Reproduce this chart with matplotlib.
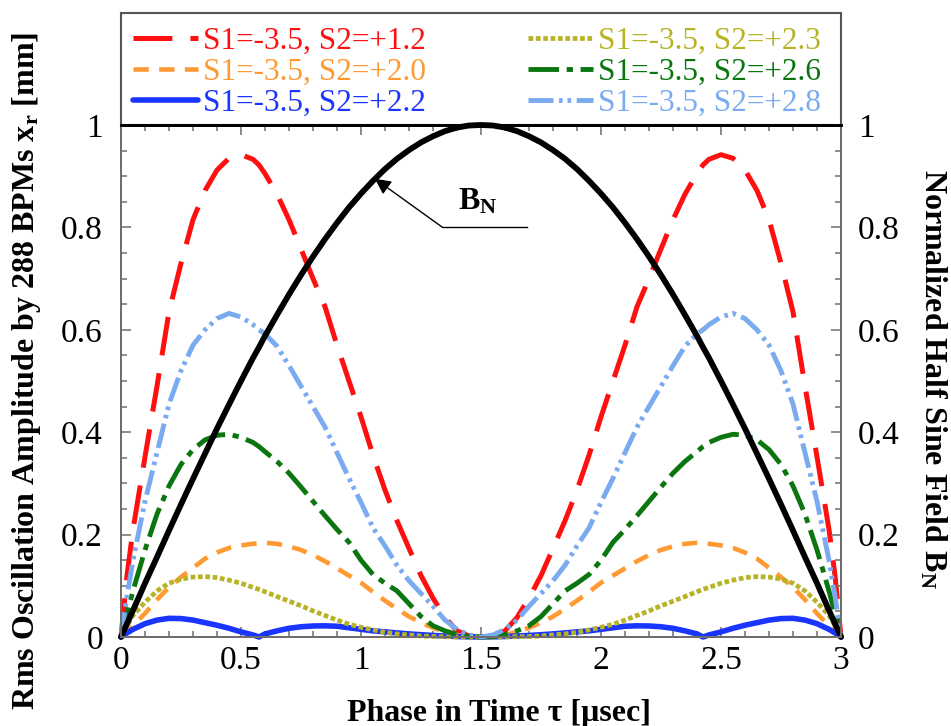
import matplotlib
matplotlib.use("Agg")
import matplotlib.pyplot as plt
from matplotlib.patches import Rectangle
from matplotlib.ticker import MultipleLocator, FuncFormatter

plt.rcParams["font.family"] = ["Liberation Serif", "DejaVu Serif"]
plt.rcParams["mathtext.fontset"] = "custom"
plt.rcParams["mathtext.rm"] = "Liberation Serif"
plt.rcParams["mathtext.bf"] = "Liberation Serif:bold"
plt.rcParams["mathtext.it"] = "Liberation Serif:italic"
plt.rcParams["lines.scale_dashes"] = False

# phase grid [usec]
tau = [0, 0.025, 0.05, 0.1, 0.15, 0.2, 0.25, 0.3, 0.35, 0.4, 0.45, 0.5, 0.55, 0.575,
       0.6, 0.65, 0.7, 0.75, 0.8, 0.85, 0.9, 0.95, 1.0, 1.05, 1.1, 1.15, 1.2, 1.25,
       1.3, 1.35, 1.4, 1.45, 1.5,
       1.55, 1.6, 1.65, 1.7, 1.75, 1.8, 1.85, 1.9, 1.95, 2.0, 2.05, 2.1, 2.15, 2.2,
       2.25, 2.3, 2.35, 2.4, 2.425, 2.45, 2.5, 2.55, 2.6, 2.65, 2.7, 2.75, 2.8, 2.85,
       2.9, 2.95, 2.975, 3.0]

# rms oscillation amplitude [mm] for each sextupole setting
amp_s2_12 = [0, 0.12, 0.21, 0.352, 0.49, 0.635, 0.73, 0.815, 0.872, 0.912, 0.935, 0.942,
             0.933, 0.922, 0.905, 0.865, 0.815, 0.758, 0.70, 0.645, 0.57, 0.50, 0.43,
             0.355, 0.287, 0.227, 0.173, 0.12, 0.076, 0.038, 0.012, 0.002, 0,
             0.002, 0.012, 0.038, 0.076, 0.12, 0.173, 0.227, 0.287, 0.355, 0.43, 0.50,
             0.57, 0.645, 0.70, 0.758, 0.815, 0.865, 0.905, 0.922, 0.933, 0.942, 0.935,
             0.912, 0.872, 0.815, 0.73, 0.635, 0.49, 0.352, 0.21, 0.12, 0]
amp_s2_20 = [0, 0.01, 0.022, 0.046, 0.073, 0.097, 0.117, 0.135, 0.153, 0.165, 0.174, 0.179,
             0.182, 0.183, 0.184, 0.182, 0.177, 0.17, 0.16, 0.148, 0.134, 0.12, 0.106,
             0.088, 0.071, 0.055, 0.04, 0.028, 0.018, 0.01, 0.004, 0.001, 0,
             0.001, 0.004, 0.01, 0.018, 0.028, 0.04, 0.055, 0.071, 0.088, 0.106, 0.12,
             0.134, 0.148, 0.16, 0.17, 0.177, 0.182, 0.184, 0.183, 0.182, 0.179, 0.174,
             0.165, 0.153, 0.135, 0.117, 0.097, 0.073, 0.046, 0.022, 0.01, 0]
amp_s2_22 = [0, 0.008, 0.015, 0.026, 0.033, 0.0365, 0.036, 0.033, 0.028, 0.023, 0.017, 0.010,
             0.004, 0.0, 0.006, 0.012, 0.017, 0.020, 0.0215, 0.0218, 0.021, 0.018, 0.015,
             0.012, 0.010, 0.008, 0.006, 0.0045, 0.003, 0.002, 0.001, 0.0003, 0,
             0.0003, 0.001, 0.002, 0.003, 0.0045, 0.006, 0.008, 0.010, 0.012, 0.015, 0.018,
             0.021, 0.0218, 0.0215, 0.020, 0.017, 0.012, 0.006, 0.0, 0.004, 0.010, 0.017,
             0.023, 0.028, 0.033, 0.036, 0.0365, 0.033, 0.026, 0.015, 0.008, 0]
amp_s2_23 = [0, 0.022, 0.042, 0.068, 0.09, 0.105, 0.113, 0.117, 0.118, 0.116, 0.111, 0.105,
             0.097, 0.093, 0.0885, 0.079, 0.07, 0.061, 0.051, 0.042, 0.033, 0.025, 0.019,
             0.014, 0.009, 0.006, 0.004, 0.002, 0.001, 0.0005, 0, 0, 0,
             0, 0, 0.0005, 0.001, 0.002, 0.004, 0.006, 0.009, 0.014, 0.019, 0.025,
             0.033, 0.042, 0.051, 0.061, 0.07, 0.079, 0.0885, 0.093, 0.097, 0.105, 0.111,
             0.116, 0.118, 0.117, 0.113, 0.105, 0.09, 0.068, 0.042, 0.022, 0]
amp_s2_26 = [0, 0.045, 0.09, 0.17, 0.24, 0.295, 0.337, 0.366, 0.385, 0.394, 0.396, 0.39,
             0.38, 0.372, 0.362, 0.343, 0.32, 0.293, 0.265, 0.237, 0.21, 0.185, 0.15,
             0.122, 0.105, 0.09, 0.065, 0.04, 0.022, 0.012, 0.005, 0.001, 0,
             0.001, 0.005, 0.012, 0.022, 0.04, 0.065, 0.09, 0.105, 0.122, 0.15, 0.185,
             0.21, 0.237, 0.265, 0.293, 0.32, 0.343, 0.362, 0.372, 0.38, 0.39, 0.396,
             0.394, 0.385, 0.366, 0.337, 0.295, 0.24, 0.17, 0.09, 0.045, 0]
amp_s2_28 = [0, 0.08, 0.15, 0.265, 0.36, 0.455, 0.52, 0.57, 0.60, 0.622, 0.632, 0.625,
             0.61, 0.60, 0.592, 0.568, 0.53, 0.49, 0.45, 0.41, 0.36, 0.31, 0.263,
             0.213, 0.178, 0.14, 0.11, 0.085, 0.06, 0.033, 0.015, 0.004, 0,
             0.004, 0.015, 0.033, 0.06, 0.085, 0.11, 0.14, 0.178, 0.213, 0.263, 0.31,
             0.36, 0.41, 0.45, 0.49, 0.53, 0.568, 0.592, 0.60, 0.61, 0.625, 0.632,
             0.622, 0.60, 0.57, 0.52, 0.455, 0.36, 0.265, 0.15, 0.08, 0]

# normalized half-sine kicker field
field_bn = [0, 0.026, 0.052, 0.105, 0.156, 0.208, 0.259, 0.309, 0.358, 0.407, 0.454, 0.5,
            0.545, 0.566, 0.588, 0.629, 0.669, 0.707, 0.743, 0.777, 0.809, 0.839, 0.866,
            0.891, 0.914, 0.934, 0.951, 0.966, 0.978, 0.988, 0.995, 0.999, 1.0,
            0.999, 0.995, 0.988, 0.978, 0.966, 0.951, 0.934, 0.914, 0.891, 0.866, 0.839,
            0.809, 0.777, 0.743, 0.707, 0.669, 0.629, 0.588, 0.566, 0.545, 0.5, 0.454,
            0.407, 0.358, 0.309, 0.259, 0.208, 0.156, 0.105, 0.052, 0.026, 0]

labels_left = ["S1=-3.5, S2=+1.2", "S1=-3.5, S2=+2.0", "S1=-3.5, S2=+2.2"]
labels_right = ["S1=-3.5, S2=+2.3", "S1=-3.5, S2=+2.6", "S1=-3.5, S2=+2.8"]

fig = plt.figure(figsize=(9.51, 7.26), dpi=100)
ax = fig.add_axes([121 / 951, 89 / 726, 720 / 951, 512 / 726])

styles_left = [
    (amp_s2_12, "#ff1010", 3.6, (0, (28, 13))),
    (amp_s2_20, "#ff9a33", 3.3, (0, (11, 7.5))),
    (amp_s2_22, "#1a35ff", 4.0, "-"),
]
styles_right = [
    (amp_s2_23, "#b8b326", 3.4, (0, (3.4, 1.9))),
    (amp_s2_26, "#0b760f", 3.5, (0, (22, 5.5, 4.5, 5.5))),
    (amp_s2_28, "#7aaaf0", 3.5, (0, (18, 4, 2.6, 3.5, 2.6, 4))),
]

handles_left, handles_right = [], []
for (vals, col, lw, ls), lab in zip(styles_left, labels_left):
    (ln,) = ax.plot(tau, vals, color=col, lw=lw, ls=ls, label=lab, clip_on=False,
                    dash_capstyle="butt", solid_capstyle="round")
    handles_left.append(ln)
for (vals, col, lw, ls), lab in zip(styles_right, labels_right):
    (ln,) = ax.plot(tau, vals, color=col, lw=lw, ls=ls, label=lab, clip_on=False,
                    dash_capstyle="butt", solid_capstyle="round")
    handles_right.append(ln)

ax.plot(tau, field_bn, color="black", lw=4.2, solid_capstyle="round", clip_on=False)

ax.set_xlim(0, 3)
ax.set_ylim(0, 1)

fmt = FuncFormatter(lambda v, p: "%g" % v)
ax.xaxis.set_major_locator(MultipleLocator(0.5))
ax.xaxis.set_minor_locator(MultipleLocator(0.1))
ax.yaxis.set_major_locator(MultipleLocator(0.2))
ax.yaxis.set_minor_locator(MultipleLocator(0.05))
ax.xaxis.set_major_formatter(fmt)
ax.yaxis.set_major_formatter(fmt)

ax2 = ax.twinx()
ax2.set_ylim(0, 1)
ax2.yaxis.set_major_locator(MultipleLocator(0.2))
ax2.yaxis.set_minor_locator(MultipleLocator(0.05))
ax2.yaxis.set_major_formatter(fmt)

tick_col = "#6e6e6e"
ax.tick_params(axis="both", which="both", direction="in", top=True, right=False,
               color=tick_col, width=1.1, labelsize=24)
ax.tick_params(axis="both", which="major", length=7)
ax.tick_params(axis="both", which="minor", length=4.5)
ax.tick_params(axis="x", pad=6)
ax.tick_params(axis="y", pad=13)
ax2.tick_params(axis="y", which="both", direction="in", color=tick_col, width=1.1,
                labelsize=24, pad=12)
ax2.tick_params(axis="y", which="major", length=7)
ax2.tick_params(axis="y", which="minor", length=4.5)

for a in (ax, ax2):
    for side in ("left", "right", "bottom"):
        a.spines[side].set_color(tick_col)
        a.spines[side].set_linewidth(1.4)
    a.spines["top"].set_color("black")
    a.spines["top"].set_linewidth(2.0)

# legend frame above the plotting area
ax.add_patch(Rectangle((0, 1), 1, 112 / 512, transform=ax.transAxes, fill=False,
                       edgecolor="#555555", lw=1.5, clip_on=False))

leg_kw = dict(frameon=False, fontsize=22.5, handlelength=2.08, handletextpad=0.16,
              labelspacing=0.06, borderpad=0, borderaxespad=0, loc="upper left",
              labelcolor="linecolor")
leg1 = ax.legend(handles=handles_left, bbox_to_anchor=(0.0167, 1 + 98 / 512), **leg_kw)
ax.add_artist(leg1)
ax.legend(handles=handles_right, bbox_to_anchor=(0.565, 1 + 98 / 512), **leg_kw)

# B_N callout
ax.annotate("", xy=(1.058, 0.895), xytext=(1.34, 0.80),
            arrowprops=dict(arrowstyle="-|>", color="black", lw=1.0, mutation_scale=24,
                            shrinkA=0, shrinkB=0))
ax.plot([1.34, 1.69], [0.80, 0.80], color="black", lw=1.0)
ax.text(1.405, 0.835, r"$\mathbf{B_N}$", fontsize=23, ha="left", va="baseline")

fig.text(27 / 951, 1 - 371 / 726, r"Rms Oscillation Amplitude by 288 BPMs $\mathbf{x_r}$ [mm]",
         rotation=90, ha="center", va="center", fontsize=23, fontweight="bold")
fig.text(933 / 951, 1 - 379 / 726, r"Normalized Half Sine Field $\mathbf{B_N}$",
         rotation=-90, ha="center", va="center", fontsize=23, fontweight="bold")
fig.text(499 / 951, 1 - 713 / 726, "Phase in Time τ [μsec]",
         ha="center", va="center", fontsize=23, fontweight="bold")

fig.savefig("out.png", dpi=100)
